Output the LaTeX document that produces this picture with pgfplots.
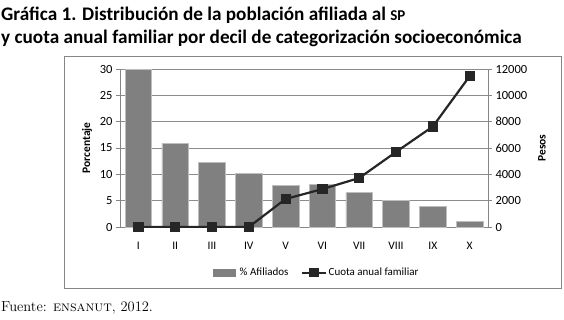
\documentclass[border=0pt]{standalone}
\usepackage{fontspec}
\usepackage{pgfplots}
\pgfplotsset{compat=1.18}
\newfontfamily\carlito{Carlito}
\definecolor{barcol}{RGB}{128,128,128}
\definecolor{baredge}{RGB}{190,190,190}
\definecolor{linecol}{RGB}{38,38,38}
\definecolor{axcol}{RGB}{134,134,134}
\definecolor{gridcol}{RGB}{140,140,140}
\begin{document}
\begin{tikzpicture}
\useasboundingbox (0pt,0pt) rectangle (564pt,-319pt);
\draw[axcol, line width=0.8pt] (64pt,-56pt) rectangle (561pt,-288pt);
\node[anchor=base west, inner sep=0pt, font=\carlito\bfseries\fontsize{19.2}{22}\selectfont] at (1pt,-20pt) {Gráfica 1. Distribución de la población afiliada al {\fontsize{15}{16}\selectfont SP}};
\node[anchor=base west, inner sep=0pt, font=\carlito\bfseries\fontsize{19.2}{22}\selectfont] at (1pt,-43pt) {y cuota anual familiar por decil de categorización socioeconómica};
\node[anchor=base west, inner sep=0pt, font=\fontsize{14.5}{16}\selectfont] at (1pt,-311pt) {Fuente: \textsc{ensanut}, 2012.};

\pgfplotsset{
  mystyle/.style={
    at={(120pt,-227pt)}, anchor=south west, scale only axis,
    width=368pt, height=158pt,
    xmin=-0.5, xmax=9.5,
    /pgf/number format/assume math mode=true,
    /pgf/number format/set thousands separator={},
    scaled y ticks=false,
    tick label style={font=\carlito\fontsize{12.5}{14}\selectfont, text=black},
    axis line style={axcol, line width=0.8pt},
    tick style={axcol, line width=0.8pt},
    tick align=outside,
    major tick length=4pt,
  }
}

\begin{axis}[mystyle,
  ymin=0, ymax=30, ytick={0,5,...,30},
  axis x line*=bottom, axis y line*=left,
  xtick={0,...,9}, xticklabels={I,II,III,IV,V,VI,VII,VIII,IX,X},
  x tick style={draw=none},
  minor xtick={-0.5,0.5,...,9.5},
  minor x tick style={axcol, line width=0.8pt},
  minor tick length=4pt,
  xticklabel style={yshift=-8pt, font=\carlito\fontsize{11.5}{13}\selectfont},
  ymajorgrids, grid style={gridcol, line width=0.8pt},
  every axis y label/.style={at={(axis description cs:-0.0897,0.5)}, rotate=90, anchor=center, font=\carlito\bfseries\fontsize{11.5}{13}\selectfont},
  ylabel={Porcentaje},
]
\addplot[ybar, bar width=26.7pt, fill=barcol, draw=baredge, line width=0.6pt] coordinates {
(0,29.9) (1,15.9) (2,12.3) (3,10.25) (4,7.85) (5,8.1) (6,6.5) (7,5.1) (8,3.85) (9,1.1)};
\end{axis}

\begin{axis}[mystyle,
  ymin=0, ymax=12000, ytick={0,2000,...,12000},
  axis y line*=right, axis x line=none,
  every axis y label/.style={at={(axis description cs:1.1467,0.5)}, rotate=90, anchor=center, font=\carlito\bfseries\fontsize{11.5}{13}\selectfont},
  ylabel={Pesos},
  legend style={at={(axis description cs:0.535,-0.29)}, anchor=center, draw=none, fill=none,
    legend columns=2, font=\carlito\fontsize{11}{13}\selectfont,
    /tikz/every even column/.append style={column sep=10pt},
    legend cell align=left, inner sep=1pt},
]
\addlegendimage{legend image code/.code={\fill[barcol] (0pt,-3.5pt) rectangle (22pt,3.5pt); \path (24pt,0pt);}}
\addlegendentry{\% Afiliados}
\addplot[linecol, line width=2.2pt, mark=square*, mark size=4pt,
  legend image code/.code={\draw[linecol, line width=2.2pt] (0pt,0pt) -- (24pt,0pt); \fill[linecol] (9pt,-3.5pt) rectangle (16pt,3.5pt);}]
 coordinates {(0,0) (1,0) (2,0) (3,0) (4,2130) (5,2880) (6,3720) (7,5700) (8,7630) (9,11450)};
\addlegendentry{Cuota anual familiar}
\end{axis}
\end{tikzpicture}
\end{document}
